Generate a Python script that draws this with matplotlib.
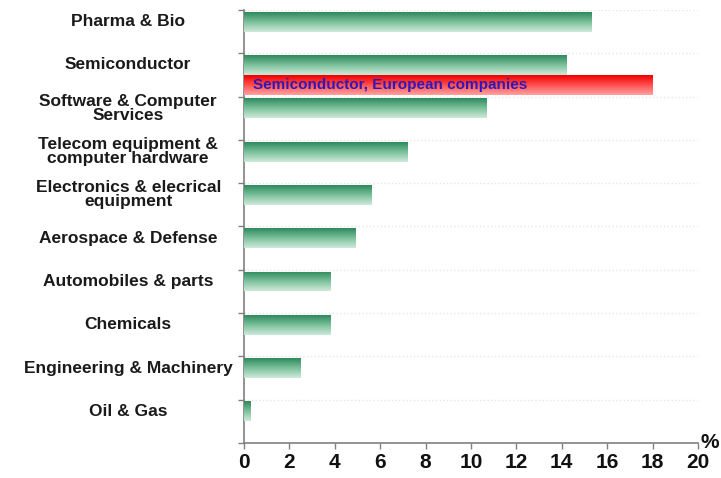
import numpy as np
import matplotlib
matplotlib.use("Agg")
import matplotlib.pyplot as plt
from matplotlib.colors import LinearSegmentedColormap
from matplotlib.transforms import blended_transform_factory

# Data
categories = [
    "Pharma & Bio",
    "Semiconductor",
    "Software & Computer\nServices",
    "Telecom equipment &\ncomputer hardware",
    "Electronics & elecrical\nequipment",
    "Aerospace & Defense",
    "Automobiles & parts",
    "Chemicals",
    "Engineering & Machinery",
    "Oil & Gas",
]
values = [15.3, 14.2, 10.7, 7.2, 5.6, 4.9, 3.8, 3.8, 2.5, 0.3]
highlight_label = "Semiconductor, European companies"
highlight_value = 18.0
highlight_row = 1
x_ticks = [0, 2, 4, 6, 8, 10, 12, 14, 16, 18, 20]

FONT = "Liberation Sans"
plt.rcParams["font.family"] = [FONT, "DejaVu Sans"]

green_cmap = LinearSegmentedColormap.from_list("g", ["#cfe9da", "#7cc19c", "#2e8a5c"])
red_cmap = LinearSegmentedColormap.from_list("r", ["#ffa0a0", "#ff5050", "#f00000"])
grad = np.linspace(0, 1, 64).reshape(-1, 1)

fig = plt.figure(figsize=(7.21, 4.78), dpi=100)
ax = fig.add_axes([244 / 721, 1 - 443 / 478, 454 / 721, 433 / 478])

n = len(categories)
h = 0.46
slot_center = np.array([n - 1 - i + 0.5 for i in range(n)])
green_y = slot_center + h / 2


def gradient_bar(y, w, cmap):
    bar = ax.barh(y, w, height=h, color=cmap(0.6), edgecolor="none", zorder=2)[0]
    im = ax.imshow(grad, cmap=cmap, aspect="auto", origin="lower", zorder=3,
                   extent=[0, w, y - h / 2, y + h / 2], interpolation="bilinear")
    im.set_clip_path(bar)


for y, v in zip(green_y, values):
    gradient_bar(y, v, green_cmap)

red_y = slot_center[highlight_row] - h / 2
gradient_bar(red_y, highlight_value, red_cmap)
ax.text(0.4, red_y, highlight_label, color="#3018b8", fontsize=11,
        fontweight="bold", va="center", ha="left", zorder=4)

ax.set_xlim(0, 20)
ax.set_ylim(0, n)

# category labels centred left of the axis
trans = blended_transform_factory(ax.transAxes, ax.transData)
for y, lab in zip(green_y, categories):
    ax.text(-0.255, y, lab, transform=trans, ha="center", va="center",
            multialignment="center", fontsize=12.5, fontweight="bold",
            color="#1a1a1a", linespacing=0.9)

ax.set_yticks(np.arange(0, n + 1))
ax.set_yticklabels([])
ax.set_xticks(x_ticks)
ax.set_xticklabels([str(t) for t in x_ticks], fontsize=15, fontweight="bold", color="#111111")
ax.tick_params(axis="both", direction="out", length=4, color="#808080", width=1)
ax.tick_params(axis="x", pad=3)

ax.grid(axis="y", color="#e6e6e6", linestyle=":", linewidth=1, zorder=0)
for s in ["top", "right"]:
    ax.spines[s].set_visible(False)
for s in ["left", "bottom"]:
    ax.spines[s].set_color("#808080")
    ax.spines[s].set_linewidth(1.2)

ax.text(1.006, 0.0, "%", transform=ax.transAxes, fontsize=15, fontweight="bold",
        ha="left", va="center", color="#111111")

fig.savefig("out.png", dpi=100)
